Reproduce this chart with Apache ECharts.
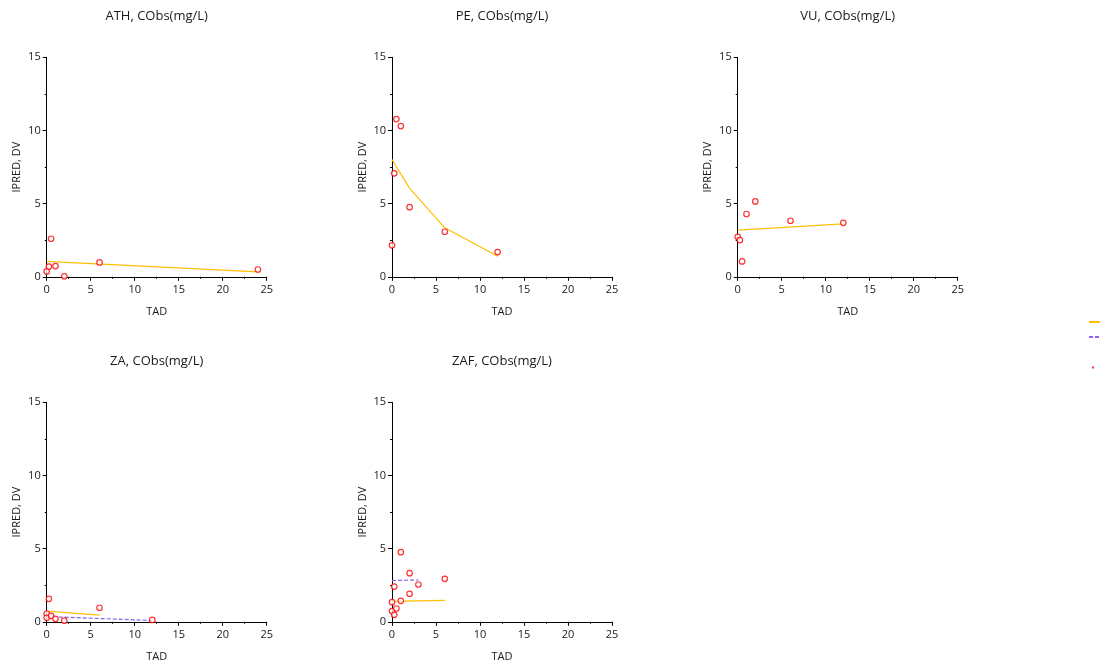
<!DOCTYPE html>
<html>
<head>
<meta charset="utf-8">
<style>
  html, body { margin: 0; padding: 0; background: #fff; }
  #chart { width: 1112px; height: 666px; }
</style>
<script src="https://cdn.jsdelivr.net/npm/echarts@6/dist/echarts.min.js"></script>
</head>
<body>
<div id="chart"></div>
<script>
// Axis ticks
const tadTicks = [0, 5, 10, 15, 20, 25];
const concTicks = [0, 5, 10, 15];

// Panel titles
const panelNames = ['ATH', 'PE', 'VU', 'ZA', 'ZAF'];
const titleSuffix = ', CObs(mg/L)';

// ATH
const athObsTad = [0, 0.25, 0.5, 1, 2, 6, 24];
const athDv = [0.37, 0.7, 2.6, 0.73, 0.03, 0.98, 0.5];
const athPredTad = [0, 24];
const athIpred = [1.05, 0.33];

// PE
const peObsTad = [0, 0.25, 0.5, 1, 2, 6, 12];
const peDv = [2.15, 7.07, 10.78, 10.3, 4.76, 3.08, 1.69];
const pePredTad = [0, 2, 6, 12];
const peIpred = [8.02, 6.04, 3.35, 1.41];

// VU
const vuObsTad = [0, 0.25, 0.5, 1, 2, 6, 12];
const vuDv = [2.73, 2.51, 1.05, 4.29, 5.15, 3.83, 3.69];
const vuPredTad = [0, 12];
const vuIpred = [3.19, 3.62];

// ZA
const zaObsTad = [0, 0, 0.25, 0.5, 1, 2, 6, 12];
const zaDv = [0.55, 0.27, 1.57, 0.41, 0.2, 0.08, 0.96, 0.13];
const zaPredTad = [0, 6];
const zaIpred = [0.73, 0.45];
const zaPredTad2 = [0, 12];
const zaIpred2 = [0.36, 0.09];

// ZAF
const zafObsTad = [0, 0, 0.25, 0.25, 0.5, 1, 1, 2, 2, 3, 6];
const zafDv = [1.34, 0.73, 0.48, 2.41, 0.91, 4.76, 1.43, 3.32, 1.91, 2.55, 2.94];
const zafPredTad = [0, 6];
const zafIpred = [1.39, 1.46];
const zafPredTad2 = [0, 3];
const zafIpred2 = [2.82, 2.86];

const panels = [
  { obsTad: athObsTad, dv: athDv, predTad: athPredTad, ipred: athIpred },
  { obsTad: peObsTad, dv: peDv, predTad: pePredTad, ipred: peIpred },
  { obsTad: vuObsTad, dv: vuDv, predTad: vuPredTad, ipred: vuIpred },
  { obsTad: zaObsTad, dv: zaDv, predTad: zaPredTad, ipred: zaIpred, predTad2: zaPredTad2, ipred2: zaIpred2 },
  { obsTad: zafObsTad, dv: zafDv, predTad: zafPredTad, ipred: zafIpred, predTad2: zafPredTad2, ipred2: zafIpred2 }
];

const FONT = '"Open Sans", "Noto Sans", sans-serif';
const TEXT = '#1a1a1a';
const YELLOW = '#ffbf00';
const PURPLE = '#8c63f2';
const RED = '#ff0000';

// Grid placement: 3 columns, 2 rows
const colLeft = [46.7, 392, 737.7];
const rowTop = [57.3, 402.3];
const gridW = 220, gridH = 219.5;

const grids = [], xAxes = [], yAxes = [], titles = [], series = [];

const zip = (xs, ys) => xs.map((x, i) => [x, ys[i]]);

panels.forEach((p, i) => {
  const col = i % 3, row = Math.floor(i / 3);
  const left = colLeft[col], top = rowTop[row];
  grids.push({ left: left, top: top, width: gridW, height: gridH });
  titles.push({
    text: panelNames[i] + titleSuffix,
    left: left + gridW / 2,
    top: top - 48,
    textAlign: 'center',
    padding: 0,
    textStyle: { fontFamily: FONT, fontSize: 13, fontWeight: 'normal', color: TEXT }
  });
  xAxes.push({
    gridIndex: i, type: 'value',
    min: tadTicks[0], max: tadTicks[tadTicks.length - 1],
    interval: tadTicks[1] - tadTicks[0],
    name: 'TAD', nameLocation: 'middle', nameGap: 30,
    nameTextStyle: { fontFamily: FONT, fontSize: 11, color: TEXT },
    axisLine: { show: true, onZero: false, lineStyle: { color: '#000', width: 1 } },
    axisTick: { show: true, length: 4, lineStyle: { color: '#000' } },
    minorTick: { show: true, splitNumber: 2, length: 2, lineStyle: { color: '#000' } },
    axisLabel: { fontFamily: FONT, fontSize: 11, color: TEXT, margin: 8 },
    splitLine: { show: false }
  });
  yAxes.push({
    gridIndex: i, type: 'value',
    min: concTicks[0], max: concTicks[concTicks.length - 1],
    interval: concTicks[1] - concTicks[0],
    name: 'IPRED, DV', nameLocation: 'middle', nameGap: 24,
    nameTextStyle: { fontFamily: FONT, fontSize: 11, color: TEXT },
    axisLine: { show: true, onZero: false, lineStyle: { color: '#000', width: 1 } },
    axisTick: { show: true, length: 4, lineStyle: { color: '#000' } },
    minorTick: { show: true, splitNumber: 2, length: 2, lineStyle: { color: '#000' } },
    axisLabel: { fontFamily: FONT, fontSize: 11, color: TEXT, margin: 6 },
    splitLine: { show: false }
  });
  series.push({
    name: 'IPRED', type: 'line', xAxisIndex: i, yAxisIndex: i,
    data: zip(p.predTad, p.ipred), symbol: 'none', silent: true,
    lineStyle: { color: YELLOW, width: 1.2 }, itemStyle: { color: YELLOW }, z: 2
  });
  if (p.predTad2) {
    series.push({
      name: 'PRED', type: 'line', xAxisIndex: i, yAxisIndex: i,
      data: zip(p.predTad2, p.ipred2), symbol: 'none', silent: true,
      lineStyle: { color: PURPLE, width: 1.2, type: [4, 2] }, itemStyle: { color: PURPLE }, z: 2
    });
  }
  series.push({
    name: 'DV', type: 'scatter', xAxisIndex: i, yAxisIndex: i,
    data: zip(p.obsTad, p.dv), symbol: 'circle', symbolSize: 5.5, silent: true,
    itemStyle: { color: '#fff', borderColor: RED, borderWidth: 1.2 }, z: 3
  });
});

// Legend keys without text, stacked at the right edge
const legendBase = { left: 1088, orient: 'vertical', selectedMode: false, formatter: () => '', padding: 0, itemGap: 0,
  textStyle: { fontSize: 1 } };

const chart = echarts.init(document.getElementById('chart'), null, { renderer: 'canvas' });
chart.setOption({
  animation: false,
  backgroundColor: '#fff',
  title: titles,
  grid: grids,
  xAxis: xAxes,
  yAxis: yAxes,
  legend: [
    Object.assign({}, legendBase, { data: [{ name: 'IPRED', itemStyle: { opacity: 0 } }], top: 319, itemWidth: 11, itemHeight: 6 }),
    Object.assign({}, legendBase, { data: [{ name: 'PRED', itemStyle: { opacity: 0 } }], top: 334, itemWidth: 11, itemHeight: 6 }),
    Object.assign({}, legendBase, { data: [{ name: 'DV', icon: 'rect' }], top: 366.5, left: 1092, itemWidth: 2, itemHeight: 2,
      itemStyle: { color: RED, borderWidth: 0 } })
  ],
  series: series
});
</script>
</body>
</html>
